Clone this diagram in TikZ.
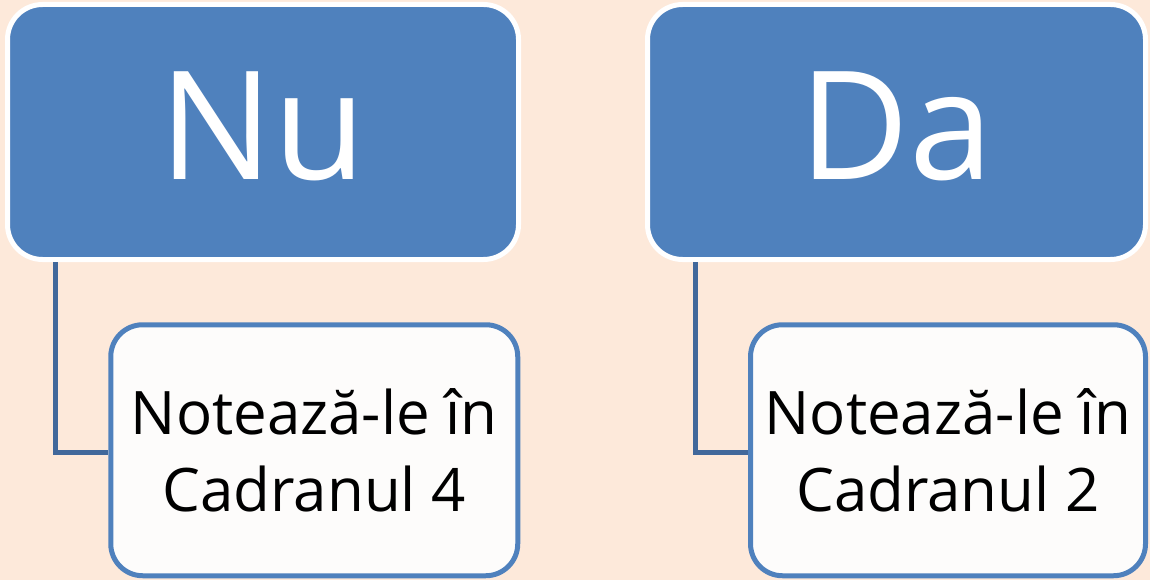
\documentclass[tikz,border=0pt]{standalone}
\usepackage{fontspec}
\setmainfont{Open Sans}
\definecolor{peach}{HTML}{FDE9DA}
\definecolor{boxblue}{HTML}{4F81BD}
\definecolor{linkblue}{HTML}{41689B}
\definecolor{paper}{HTML}{FDFCFB}
\begin{document}
\begin{tikzpicture}[x=1pt,y=-1pt,
    answer/.style={rounded corners=35pt,fill=boxblue,draw=white,line width=5pt,
      text=white,font=\fontsize{151}{151}\selectfont,text depth=12pt},
    note/.style={rounded corners=32pt,fill=paper,draw=boxblue,line width=5pt,
      align=center,font=\fontsize{60}{77}\selectfont,minimum width=407pt,minimum height=251pt},
    link/.style={draw=linkblue,line width=5pt}]
  \fill[peach] (0,0) rectangle (1150,580);
  \useasboundingbox (0,0) rectangle (1150,580);
  \node[answer,minimum width=511pt,minimum height=255pt] (nu) at (263,132) {Nu};
  \node[answer,minimum width=498pt,minimum height=255pt] (da) at (896.5,132) {Da};
  \node[note] (nu note) at (314.25,450.25) {Notează-le în\\Cadranul 4};
  \node[note,minimum width=395pt] (da note) at (948,450.25) {Notează-le în\\Cadranul 2};
  \begin{scope}[link]
    \draw ([xshift=50.5pt]nu.south west) |- ([yshift=-2pt]nu note.west);
    \draw ([xshift=50.5pt]da.south west) |- ([yshift=-2pt]da note.west);
  \end{scope}
\end{tikzpicture}
\end{document}
